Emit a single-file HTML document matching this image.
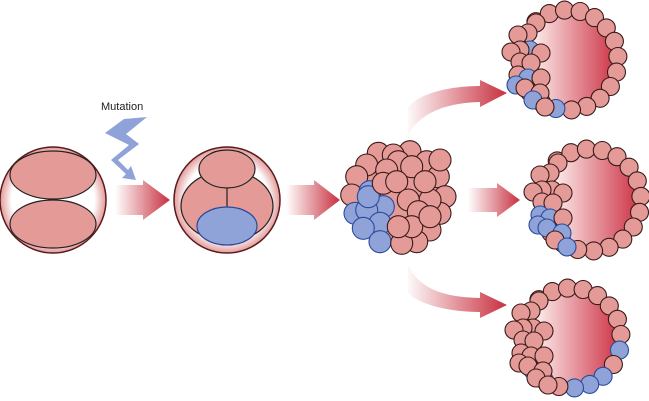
<!DOCTYPE html>
<html><head><meta charset="utf-8"><style>body{margin:0;background:#fff}svg{display:block}</style></head><body>
<svg id="s" width="649" height="401" viewBox="0 0 649 401" xmlns="http://www.w3.org/2000/svg">
<defs>
<linearGradient id="ar" x1="0" x2="1"><stop offset="0" stop-color="#fff"/><stop offset="1" stop-color="#c8303f"/></linearGradient>
<linearGradient id="ar2" gradientUnits="userSpaceOnUse" x1="405" y1="0" x2="507" y2="0"><stop offset="0" stop-color="#fff"/><stop offset="1" stop-color="#c8303f"/></linearGradient>
<radialGradient id="zg"><stop offset="0.78" stop-color="#fff"/><stop offset="1" stop-color="#e39a9a"/></radialGradient>
<linearGradient id="bl" x1="0" x2="1"><stop offset="0.1" stop-color="#fdf0ee"/><stop offset="1" stop-color="#cf3a4c"/></linearGradient>
</defs>
<text x="101" y="110" font-family="Liberation Sans, sans-serif" font-size="11" fill="#222">Mutation</text>
<polygon points="105,133 124,119 147,117 126,134 139,144 118,160 128,170 131,166 136,180 122,178 126,174 111,160 129,145" fill="#8fa3d8"/>
<polygon points="115,185 143,185 143,180 170,200 143,220 143,215 115,215" fill="url(#ar)"/>
<polygon points="286,185 314,185 314,180 340,200 314,220 314,215 286,215" fill="url(#ar)"/>
<polygon points="468,188 497,188 497,183 520,200 497,217 497,212 468,212" fill="url(#ar)"/>
<path d="M408,135 C420,113 445,103 480,102 L480,107 L507,93 L480,80 L480,86 C450,86 420,93 408,107Z" fill="url(#ar2)"/>
<path d="M408,265 C420,290 445,297 480,298 L480,292 L507,305 L480,318 L480,312 C450,312 420,305 408,293Z" fill="url(#ar2)"/>
<circle cx="53" cy="200" r="53" fill="url(#zg)" stroke="#5a1a1a" stroke-width="1.5"/>
<ellipse cx="53" cy="175" rx="43" ry="24" fill="#e49a96" stroke="#222" stroke-width="1.2"/>
<ellipse cx="53" cy="224" rx="43" ry="24" fill="#e49a96" stroke="#222" stroke-width="1.2"/>
<circle cx="227" cy="200" r="53" fill="url(#zg)" stroke="#5a1a1a" stroke-width="1.5"/>
<ellipse cx="227" cy="206" rx="46" ry="35" fill="#e49a96" stroke="#222" stroke-width="1.2"/>
<ellipse cx="227" cy="169" rx="28" ry="19" fill="#e49a96" stroke="#222" stroke-width="1.2"/>
<line x1="227" y1="188" x2="227" y2="207" stroke="#222" stroke-width="1.2"/>
<ellipse cx="227" cy="226" rx="30" ry="19" fill="#8fa3d8" stroke="#2a4a9a" stroke-width="1.2"/>
<circle cx="398" cy="200" r="44" fill="#e49a96" stroke="#3a1a1a"/>
<g id="g"></g>
</svg>
<script>
var g=document.getElementById('g'),P='#e49a96',B='#8fa3d8',out='';
function c(x,y,r,col){out+='<circle cx="'+x.toFixed(1)+'" cy="'+y.toFixed(1)+'" r="'+r+'" fill="'+col+'" stroke="'+(col==B?'#2a4a9a':'#3a1a1a')+'" stroke-width="1.1"/>';}
var blue=[[120,365],[160,410],[75,430],[110,420],[150,460],[100,475],[150,515],[115,380]];
var back=[[145,250],[240,245],[290,275],[110,285],[80,320],[325,320],[65,375],[345,380],[330,430],[300,480],[260,515],[300,390],[190,255],[330,270]];
var front=[[205,275],[170,300],[245,290],[285,335],[160,340],[200,335],[235,390],[265,425],[215,520],[245,470],[205,470],[300,440]];
function mc(p,col){c(330+p[0]/3,70+p[1]/3,11,col)}
back.forEach(function(p){mc(p,P)});blue.forEach(function(p){mc(p,B)});front.forEach(function(p){mc(p,P)});
var icm=[[-32,-37],[-40,-27],[-50,-25],[-38,-10],[-48,-10],[-57,-8],[-27,-7],[-48,2],[-37,3],[-50,15],[-40,18],[-27,18],[-52,25],[-43,28],[-28,33],[-35,40],[-23,47]];
function blast(cx,cy,R,ringBlue,icmBlue){
 out+='<circle cx="'+cx+'" cy="'+cy+'" r="'+(R-5)+'" fill="url(#bl)"/>';
 for(var a=-40;a<=236;a+=18){var t=a*Math.PI/180;
  var isB=ringBlue.some(function(b){return Math.abs(b-a)<9});
  c(cx+R*Math.sin(t),cy-R*Math.cos(t),9,isB?B:P);}
 icm.forEach(function(p,k){c(cx+p[0],cy+p[1],9,icmBlue.indexOf(k)>=0?B:P)});
}
blast(568,60,50,[194],[3,10,12,15]);
blast(590,200,51,[],[9,10,12,13,14,16]);
blast(571,338,50,[104,140,158,176,212,230],[]);
g.innerHTML=out;
</script>
</body></html>
